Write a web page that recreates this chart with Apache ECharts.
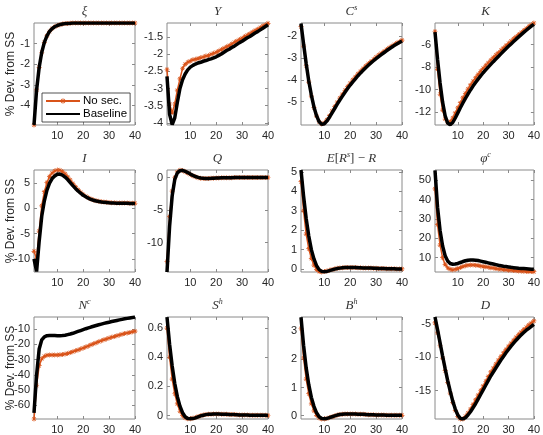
<!DOCTYPE html>
<html>
<head>
<meta charset="utf-8">
<script src="https://cdn.jsdelivr.net/npm/echarts@6/dist/echarts.min.js"></script>
<style>
  html, body { margin: 0; padding: 0; background: #fff; }
  #chart { width: 543px; height: 435px; }
</style>
</head>
<body>
<div id="chart"></div>
<script>
// horizon (quarters)
const periods = [1,2,3,4,5,6,7,8,9,10,11,12,13,14,15,16,17,18,19,20,21,22,23,24,25,26,27,28,29,30,31,32,33,34,35,36,37,38,39,40];
const xTicks = [10, 20, 30, 40];

// xi
const xiNoSec = [-4.95,-3.25,-2.15,-1.42,-0.94,-0.62,-0.41,-0.27,-0.18,-0.12,-0.08,-0.05,-0.03,-0.02,-0.01,-0.005,0,0,0,0,0,0,0,0,0,0,0,0,0,0,0,0,0,0,0,0,0,0,0,0];
const xiBase  = [-4.95,-3.25,-2.15,-1.42,-0.94,-0.62,-0.41,-0.27,-0.18,-0.12,-0.08,-0.05,-0.03,-0.02,-0.01,-0.005,0,0,0,0,0,0,0,0,0,0,0,0,0,0,0,0,0,0,0,0,0,0,0,0];
const xiTicks = [-4, -3, -2, -1];

// Y
const yNoSec = [-2.45,-3.45,-3.7,-3.45,-3.05,-2.72,-2.42,-2.3,-2.24,-2.2,-2.17,-2.15,-2.13,-2.11,-2.09,-2.06,-2.04,-2.01,-1.98,-1.95,-1.91,-1.87,-1.83,-1.79,-1.75,-1.71,-1.66,-1.62,-1.58,-1.54,-1.49,-1.45,-1.41,-1.36,-1.32,-1.28,-1.23,-1.19,-1.15,-1.11];
const yBase  = [-2.65,-3.75,-4.05,-3.85,-3.4,-3.0,-2.75,-2.58,-2.46,-2.38,-2.33,-2.29,-2.26,-2.24,-2.21,-2.19,-2.16,-2.14,-2.11,-2.08,-2.04,-2.0,-1.95,-1.9,-1.86,-1.81,-1.77,-1.72,-1.67,-1.63,-1.58,-1.53,-1.49,-1.44,-1.39,-1.35,-1.3,-1.25,-1.2,-1.15];
const yTicks = [-4, -3.5, -3, -2.5, -2, -1.5];

// C^s
const csNoSec = [-1.55,-2.45,-3.35,-4.1,-4.75,-5.28,-5.67,-5.93,-6.03,-5.98,-5.84,-5.65,-5.44,-5.23,-5.03,-4.84,-4.66,-4.48,-4.31,-4.15,-4.0,-3.86,-3.72,-3.6,-3.48,-3.36,-3.25,-3.15,-3.05,-2.95,-2.86,-2.77,-2.69,-2.6,-2.52,-2.45,-2.37,-2.3,-2.24,-2.17];
const csBase  = [-1.4,-2.35,-3.25,-4.05,-4.7,-5.25,-5.65,-5.93,-6.05,-6.02,-5.9,-5.72,-5.52,-5.32,-5.12,-4.93,-4.75,-4.57,-4.4,-4.24,-4.09,-3.95,-3.81,-3.68,-3.56,-3.44,-3.33,-3.22,-3.12,-3.02,-2.93,-2.84,-2.75,-2.66,-2.58,-2.5,-2.42,-2.35,-2.28,-2.21];
const csTicks = [-5, -4, -3, -2];

// K
const kNoSec = [-4.85,-8.2,-10.4,-11.8,-12.6,-12.9,-12.8,-12.5,-12.05,-11.6,-11.15,-10.72,-10.32,-9.94,-9.58,-9.25,-8.94,-8.65,-8.37,-8.11,-7.86,-7.62,-7.39,-7.16,-6.94,-6.72,-6.51,-6.3,-6.09,-5.89,-5.69,-5.5,-5.31,-5.12,-4.94,-4.76,-4.58,-4.41,-4.25,-4.1];
const kBase  = [-4.9,-7.3,-9.4,-11.1,-12.3,-12.95,-13.1,-12.9,-12.5,-12.05,-11.6,-11.17,-10.76,-10.38,-10.02,-9.68,-9.36,-9.06,-8.77,-8.5,-8.25,-8.0,-7.76,-7.52,-7.29,-7.06,-6.83,-6.6,-6.38,-6.16,-5.95,-5.74,-5.53,-5.33,-5.13,-4.93,-4.74,-4.55,-4.37,-4.22];
const kTicks = [-12, -10, -8, -6];

// I
const iNoSec = [-8.5,-10.0,-4.5,0.5,3.3,5.1,6.3,7.0,7.4,7.6,7.55,7.3,6.85,6.25,5.6,4.95,4.3,3.7,3.2,2.75,2.4,2.1,1.85,1.65,1.5,1.4,1.3,1.25,1.2,1.15,1.12,1.1,1.08,1.07,1.05,1.05,1.04,1.03,1.03,1.02];
const iBase  = [-10,-12.5,-6.5,-1.5,1.5,3.6,5.0,5.9,6.4,6.75,6.8,6.6,6.2,5.7,5.1,4.5,3.95,3.45,3.0,2.6,2.3,2.0,1.8,1.6,1.45,1.35,1.25,1.2,1.15,1.1,1.08,1.05,1.03,1.02,1.0,1.0,1.0,0.98,0.98,0.97];
const iTicks = [-10, -5, 0, 5];

// Q
const qNoSec = [-12.9,-6.0,-2.1,0.0,0.85,1.1,1.08,0.9,0.68,0.45,0.26,0.1,-0.02,-0.1,-0.14,-0.15,-0.15,-0.13,-0.11,-0.09,-0.07,-0.05,-0.04,-0.03,-0.02,-0.02,-0.01,-0.01,-0.01,0,0,0,0,0,0,0,0,0,0,0];
const qBase  = [-14.5,-7.5,-2.8,-0.3,0.7,1.05,1.1,0.95,0.75,0.52,0.32,0.15,0.02,-0.07,-0.12,-0.14,-0.14,-0.13,-0.11,-0.09,-0.07,-0.05,-0.04,-0.03,-0.02,-0.02,-0.01,-0.01,-0.01,0,0,0,0,0,0,0,0,0,0,0];
const qTicks = [-10, -5, 0];

// E[R^s] - R
const erNoSec = [4.5,3.0,1.8,1.05,0.55,0.2,-0.02,-0.12,-0.15,-0.13,-0.1,-0.06,-0.02,0.01,0.04,0.06,0.07,0.08,0.08,0.08,0.08,0.08,0.07,0.07,0.06,0.06,0.05,0.05,0.04,0.04,0.03,0.03,0.03,0.02,0.02,0.02,0.02,0.01,0.01,0.01];
const erBase  = [5.1,3.75,2.6,1.7,1.0,0.52,0.18,-0.03,-0.12,-0.14,-0.12,-0.08,-0.04,0.0,0.03,0.05,0.07,0.08,0.08,0.08,0.08,0.08,0.07,0.07,0.06,0.06,0.05,0.05,0.04,0.04,0.03,0.03,0.03,0.02,0.02,0.02,0.02,0.01,0.01,0.01];
const erTicks = [0, 1, 2, 3, 4, 5];

// phi^c
const phiNoSec = [45.5,27,16.5,10,6.5,4.8,4.0,3.8,4.0,4.4,4.9,5.4,5.8,6.1,6.2,6.2,6.1,5.9,5.7,5.5,5.25,5.0,4.8,4.6,4.4,4.2,4.0,3.85,3.7,3.55,3.45,3.35,3.25,3.15,3.05,3.0,2.9,2.85,2.8,2.75];
const phiBase  = [55,36,24,16,11,8.3,7.0,6.6,6.7,7.0,7.5,8.0,8.4,8.7,8.8,8.8,8.7,8.5,8.2,7.9,7.6,7.3,7.0,6.7,6.4,6.1,5.85,5.6,5.4,5.2,5.0,4.85,4.7,4.55,4.45,4.35,4.25,4.15,4.05,4.0];
const phiTicks = [10, 20, 30, 40, 50];

// N^c
const ncNoSec = [-69,-47,-34,-29.5,-27.8,-27.2,-27.0,-26.9,-26.9,-26.9,-26.8,-26.6,-26.3,-25.9,-25.4,-24.8,-24.2,-23.6,-23.0,-22.4,-21.7,-21.0,-20.3,-19.6,-18.9,-18.2,-17.6,-17.0,-16.4,-15.8,-15.3,-14.8,-14.3,-13.8,-13.3,-12.9,-12.5,-12.1,-11.7,-11.3];
const ncBase  = [-65,-40,-23,-17,-15,-14.3,-14.1,-14.1,-14.2,-14.3,-14.3,-14.2,-14.0,-13.6,-13.2,-12.7,-12.1,-11.5,-10.9,-10.3,-9.7,-9.15,-8.6,-8.1,-7.6,-7.1,-6.65,-6.2,-5.8,-5.4,-5.0,-4.6,-4.25,-3.9,-3.55,-3.2,-2.9,-2.6,-2.3,-2.0];
const ncTicks = [-60, -50, -40, -30, -20, -10];

// S^h
const shNoSec = [0.6,0.4,0.25,0.15,0.08,0.03,0.0,-0.015,-0.022,-0.022,-0.018,-0.012,-0.006,0.0,0.004,0.007,0.009,0.01,0.011,0.011,0.011,0.01,0.01,0.009,0.008,0.007,0.007,0.006,0.005,0.005,0.004,0.004,0.003,0.003,0.003,0.002,0.002,0.002,0.002,0.001];
const shBase  = [0.675,0.49,0.34,0.22,0.13,0.065,0.02,-0.008,-0.02,-0.022,-0.02,-0.015,-0.008,-0.002,0.003,0.007,0.009,0.01,0.011,0.011,0.011,0.01,0.01,0.009,0.008,0.007,0.007,0.006,0.005,0.005,0.004,0.004,0.003,0.003,0.003,0.002,0.002,0.002,0.002,0.001];
const shTicks = [0, 0.2, 0.4, 0.6];

// B^h
const bhNoSec = [3.1,2.05,1.3,0.78,0.42,0.17,0.01,-0.08,-0.12,-0.12,-0.1,-0.07,-0.04,-0.01,0.02,0.04,0.05,0.06,0.06,0.06,0.06,0.055,0.05,0.05,0.045,0.04,0.035,0.03,0.03,0.025,0.02,0.02,0.02,0.015,0.015,0.01,0.01,0.01,0.01,0.01];
const bhBase  = [3.5,2.5,1.7,1.1,0.65,0.33,0.1,-0.04,-0.1,-0.11,-0.1,-0.07,-0.04,-0.01,0.02,0.04,0.05,0.06,0.06,0.06,0.06,0.055,0.05,0.05,0.045,0.04,0.035,0.03,0.03,0.025,0.02,0.02,0.02,0.015,0.015,0.01,0.01,0.01,0.01,0.01];
const bhTicks = [0, 1, 2, 3];

// D
const dNoSec = [-4.8,-6.3,-8.2,-10.1,-12.0,-13.8,-15.4,-16.8,-18.0,-18.9,-19.3,-19.3,-18.9,-18.4,-17.8,-17.1,-16.4,-15.7,-15.0,-14.3,-13.6,-12.9,-12.2,-11.6,-11.0,-10.4,-9.85,-9.3,-8.8,-8.3,-7.85,-7.4,-6.95,-6.55,-6.15,-5.8,-5.45,-5.1,-4.8,-4.5];
const dBase  = [-3.9,-5.8,-7.8,-9.8,-11.7,-13.5,-15.1,-16.6,-17.8,-18.7,-19.2,-19.3,-19.1,-18.7,-18.2,-17.6,-17.0,-16.3,-15.6,-14.9,-14.2,-13.5,-12.8,-12.2,-11.6,-11.0,-10.4,-9.85,-9.3,-8.8,-8.3,-7.85,-7.4,-7.0,-6.6,-6.25,-5.9,-5.6,-5.3,-5.0];
const dTicks = [-15, -10, -5];

// panel list: title (rich text), data, y range
const panels = [
  { title: '{m|ξ}', noSec: xiNoSec, base: xiBase, ticks: xiTicks, min: -4.95, max: 0 },
  { title: '{m|Y}', noSec: yNoSec, base: yBase, ticks: yTicks, min: -4.06, max: -1.1 },
  { title: '{m|C}{s|s}', noSec: csNoSec, base: csBase, ticks: csTicks, min: -6.08, max: -1.38 },
  { title: '{m|K}', noSec: kNoSec, base: kBase, ticks: kTicks, min: -13.12, max: -4.1 },
  { title: '{m|I}', noSec: iNoSec, base: iBase, ticks: iTicks, min: -12.6, max: 7.6 },
  { title: '{m|Q}', noSec: qNoSec, base: qBase, ticks: qTicks, min: -14.5, max: 1.15 },
  { title: '{m|E}{u|[}{m|R}{s|s}{u|] − }{m|R}', noSec: erNoSec, base: erBase, ticks: erTicks, min: -0.15, max: 5.1 },
  { title: '{m|φ}{s|c}', noSec: phiNoSec, base: phiBase, ticks: phiTicks, min: 2.6, max: 55.2 },
  { title: '{m|N}{s|c}', noSec: ncNoSec, base: ncBase, ticks: ncTicks, min: -69, max: -2 },
  { title: '{m|S}{s|h}', noSec: shNoSec, base: shBase, ticks: shTicks, min: -0.023, max: 0.676 },
  { title: '{m|B}{s|h}', noSec: bhNoSec, base: bhBase, ticks: bhTicks, min: -0.12, max: 3.51 },
  { title: '{m|D}', noSec: dNoSec, base: dBase, ticks: dTicks, min: -19.3, max: -3.9 }
];

const lefts = [34, 167, 301, 435];
const tops = [23, 170, 317];
const W = 101, H = 102;
const orange = '#D95319';
const boxColor = '#8a8a8a';
const labelFont = 'Liberation Sans, Arial, sans-serif';
const star = 'path://M4.3,0L5.7,0L5.7,10L4.3,10Z M0,4.3L10,4.3L10,5.7L0,5.7Z M1,2L2,1L9,8L8,9Z M8,1L9,2L2,9L1,8Z';

const serif = 'Liberation Serif, DejaVu Serif, serif';
const titleRich = {
  m: { fontFamily: serif, fontStyle: 'italic', fontWeight: 'normal', fontSize: 13, color: '#333', lineHeight: 15 },
  u: { fontFamily: serif, fontWeight: 'normal', fontSize: 13, color: '#333', lineHeight: 15 },
  s: { fontFamily: serif, fontStyle: 'italic', fontWeight: 'normal', fontSize: 8, color: '#333', verticalAlign: 'top', lineHeight: 15 }
};

const chart = echarts.init(document.getElementById('chart'));
const grid = [], xAxis = [], yAxis = [], series = [], title = [];

panels.forEach((p, i) => {
  const r = Math.floor(i / 4), c = i % 4;
  grid.push({ left: lefts[c], top: tops[r], width: W, height: H, show: true,
    borderColor: boxColor, borderWidth: 1, backgroundColor: '#fff', containLabel: false });
  title.push({ text: p.title, left: lefts[c] + W / 2, top: tops[r] - 19, textAlign: 'center',
    padding: 0, textStyle: { fontWeight: 'normal', rich: titleRich } });

  const tickStyle = { show: true, inside: true, length: 3, lineStyle: { color: boxColor } };
  const noLine = { show: false, onZero: false };
  // bottom + top x axes
  xAxis.push({ gridIndex: i, type: 'value', min: 1, max: 40, position: 'bottom',
    axisLine: noLine, splitLine: { show: false },
    axisTick: Object.assign({ customValues: xTicks }, tickStyle),
    axisLabel: { customValues: xTicks, margin: 5, fontSize: 11, color: '#262626', fontFamily: labelFont } });
  xAxis.push({ gridIndex: i, type: 'value', min: 1, max: 40, position: 'top',
    axisLine: noLine, splitLine: { show: false },
    axisTick: Object.assign({ customValues: xTicks }, tickStyle), axisLabel: { show: false } });
  // left + right y axes (left tick labels are placed below from the axis scale)
  const yl = { gridIndex: i, type: 'value', min: p.min, max: p.max, position: 'left',
    axisLine: noLine, splitLine: { show: false },
    axisTick: Object.assign({ customValues: p.ticks }, tickStyle), axisLabel: { show: false } };
  if (c === 0) {
    Object.assign(yl, { name: '% Dev. from SS', nameLocation: 'middle', nameGap: 17, nameRotate: 90,
      nameTextStyle: { fontSize: 12, color: '#262626', fontFamily: labelFont } });
  }
  yAxis.push(yl);
  yAxis.push({ gridIndex: i, type: 'value', min: p.min, max: p.max, position: 'right',
    axisLine: noLine, splitLine: { show: false },
    axisTick: Object.assign({ customValues: p.ticks }, tickStyle), axisLabel: { show: false } });

  series.push({ name: 'No sec.', type: 'line', xAxisIndex: 2 * i, yAxisIndex: 2 * i,
    data: periods.map((t, k) => [t, p.noSec[k]]),
    symbol: star, symbolSize: 5, showAllSymbol: true,
    lineStyle: { color: orange, width: 1.5 }, itemStyle: { color: orange }, z: 2 });
  series.push({ name: 'Baseline', type: 'line', xAxisIndex: 2 * i, yAxisIndex: 2 * i,
    data: periods.map((t, k) => [t, p.base[k]]),
    symbol: 'none', lineStyle: { color: '#000', width: 3.5 }, itemStyle: { color: '#000' }, z: 3 });
});

chart.setOption({
  animation: false,
  backgroundColor: '#fff',
  title: title,
  legend: {
    data: [
      { name: 'No sec.' },
      { name: 'Baseline', itemStyle: { color: 'rgba(0,0,0,0)', borderWidth: 0 } }
    ],
    orient: 'vertical', left: 42, top: 93,
    itemWidth: 34, itemHeight: 7, itemGap: 1,
    backgroundColor: '#fff', borderColor: '#262626', borderWidth: 0.8, borderRadius: 0,
    padding: [2, 3, 2, 3],
    textStyle: { fontSize: 11.5, color: '#000', fontFamily: labelFont, padding: [0, 0, 0, -2] }
  },
  grid: grid,
  xAxis: xAxis,
  yAxis: yAxis,
  series: series
});

// y tick labels: one text per tick, positioned through the panel's y axis
const yLabels = [];
panels.forEach((p, i) => {
  const r = Math.floor(i / 4), c = i % 4;
  const lin = v => tops[r] + (p.max - v) / (p.max - p.min) * H;
  p.ticks.forEach((v, k) => {
    let py = chart.convertToPixel({ yAxisIndex: 2 * i }, v);
    if (!isFinite(py) || Math.abs(py - lin(v)) > 1.5) py = lin(v);
    yLabels.push({ type: 'text', id: 'yl' + i + '_' + k, x: lefts[c] - 4, y: py,
      silent: true, z: 100, zlevel: 1,
      style: { text: String(+v.toFixed(2)), align: 'right', verticalAlign: 'middle',
        fontSize: 11, fontFamily: labelFont, fill: '#262626' } });
  });
});
chart.setOption({ graphic: yLabels });
</script>
</body>
</html>
